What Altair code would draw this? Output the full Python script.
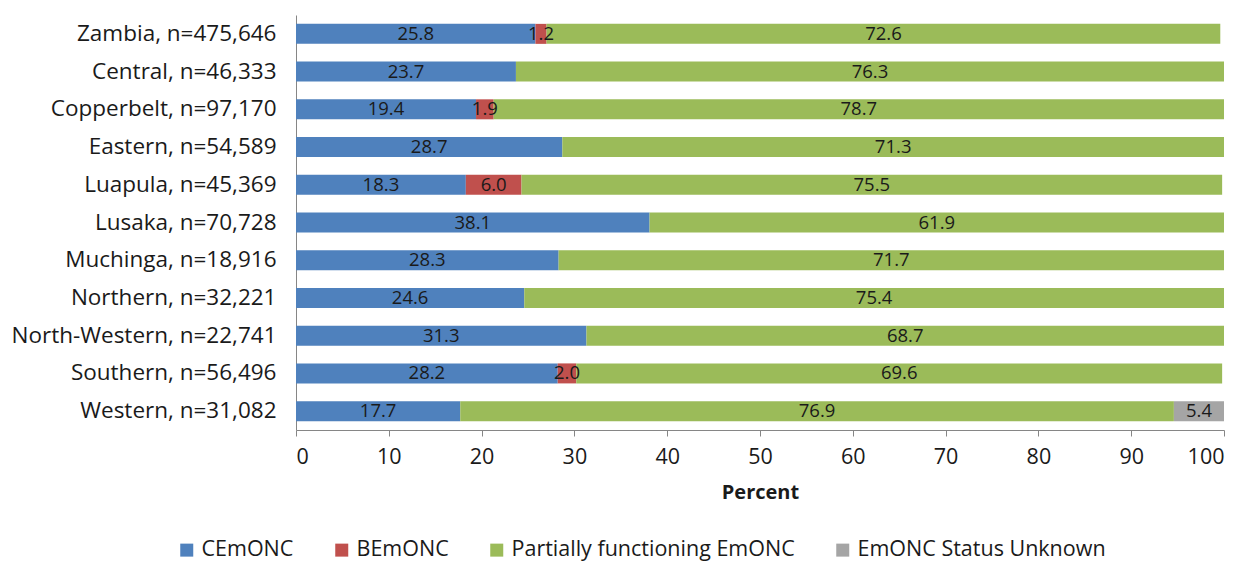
import altair as alt
import pandas as pd

# Regional EmONC status, percent of facilities
regions = [
    "Zambia, n=475,646", "Central, n=46,333", "Copperbelt, n=97,170",
    "Eastern, n=54,589", "Luapula, n=45,369", "Lusaka, n=70,728",
    "Muchinga, n=18,916", "Northern, n=32,221", "North-Western, n=22,741",
    "Southern, n=56,496", "Western, n=31,082",
]
statuses = ["CEmONC", "BEmONC", "Partially functioning EmONC", "EmONC Status Unknown"]
colors = ["#4F81BD", "#C0504D", "#9BBB59", "#A5A5A5"]

cemonc = [25.8, 23.7, 19.4, 28.7, 18.3, 38.1, 28.3, 24.6, 31.3, 28.2, 17.7]
bemonc = [1.2, None, 1.9, None, 6.0, None, None, None, None, 2.0, None]
partial = [72.6, 76.3, 78.7, 71.3, 75.5, 61.9, 71.7, 75.4, 68.7, 69.6, 76.9]
unknown = [None, None, None, None, None, None, None, None, None, None, 5.4]

rows = []
for series, name in zip([cemonc, bemonc, partial, unknown], statuses):
    for region, v in zip(regions, series):
        if v is not None:
            rows.append({"region": region, "status": name, "value": v,
                         "order": statuses.index(name)})
df = pd.DataFrame(rows)

FONT = "Open Sans"
TEXT = "#1a1a1a"
AXIS = "#868686"
LABEL_SIZE = 21.5

base = alt.Chart(df).transform_stack(
    stack="value", groupby=["region"], as_=["x0", "x1"],
    sort=[alt.SortField("order", order="ascending")],
).transform_calculate(mid="(datum.x0 + datum.x1) / 2")

bars = base.mark_bar(size=20).encode(
    x=alt.X("x0:Q", scale=alt.Scale(domain=[0, 100], nice=False),
            axis=alt.Axis(title="Percent", values=list(range(0, 101, 10)),
                          grid=False, tickSize=6, labelPadding=10,
                          domainColor=AXIS, tickColor=AXIS,
                          labelFontSize=LABEL_SIZE, labelColor=TEXT, labelFont=FONT,
                          titleFontSize=20, titleFont=FONT, titleColor=TEXT,
                          titleFontWeight="bold", titlePadding=15)),
    x2="x1:Q",
    y=alt.Y("region:N", sort=regions,
            axis=alt.Axis(title=None, ticks=False, labelPadding=20,
                          labelLimit=400, domainColor=AXIS, labelFontSize=22.5,
                          labelColor=TEXT, labelFont=FONT)),
    color=alt.Color("status:N", scale=alt.Scale(domain=statuses, range=colors),
                    legend=alt.Legend(
                        title=None, orient="none", direction="horizontal",
                        legendX=-120, legendY=524, symbolType="square",
                        symbolSize=169, symbolStrokeWidth=0,
                        labelFontSize=LABEL_SIZE, labelFont=FONT, labelColor=TEXT,
                        labelLimit=400, columnPadding=37, labelOffset=4)),
)

labels = base.mark_text(fontSize=18.5, font=FONT, color=TEXT).encode(
    x="mid:Q",
    y=alt.Y("region:N", sort=regions),
    text=alt.Text("value:Q", format=".1f"),
)

chart = alt.layer(bars, labels).properties(
    width=928, height=415,
    autosize=alt.AutoSizeParams(type="none"),
    padding={"left": 296, "top": 15, "right": 22, "bottom": 132},
).configure_view(stroke=None).configure_scale(bandPaddingInner=0.45)

chart.save("out.html", embed_options={"renderer": "svg", "actions": False})
